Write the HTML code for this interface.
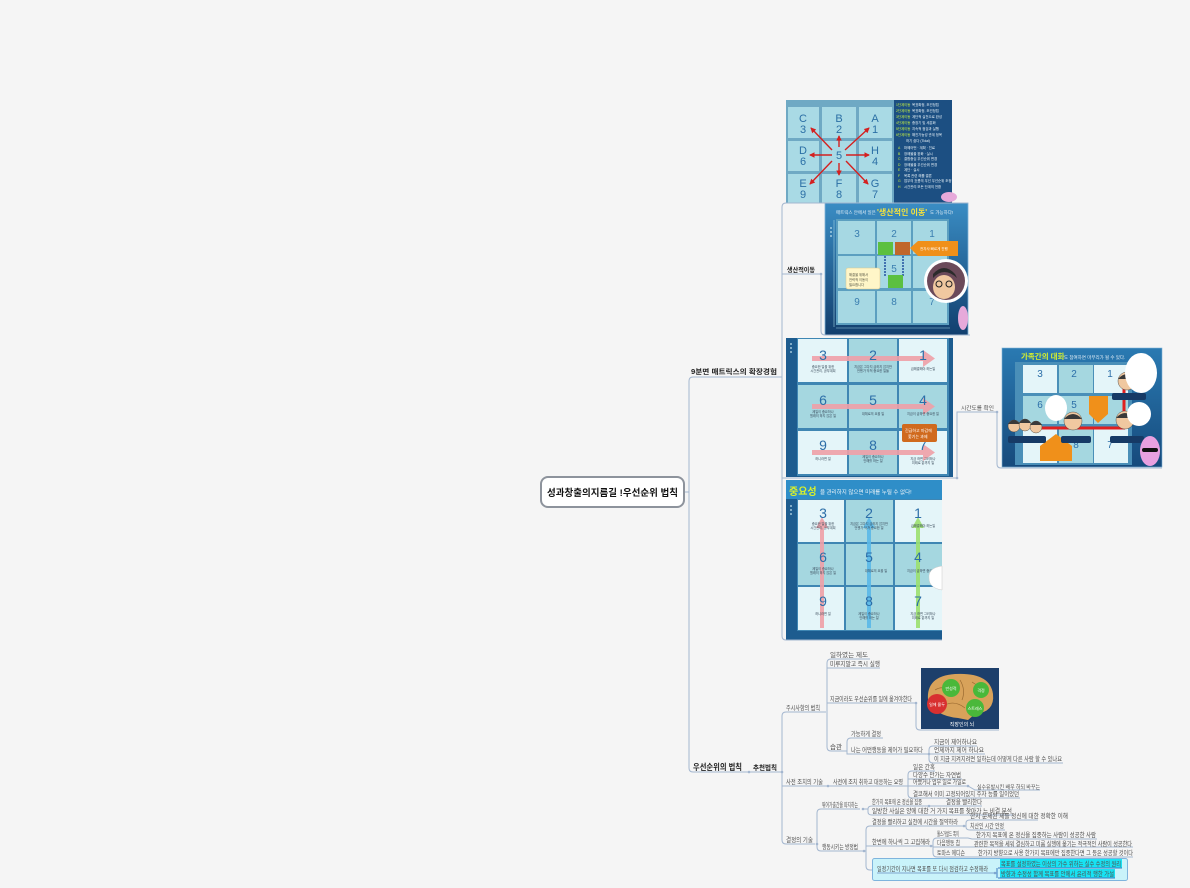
<!DOCTYPE html>
<html><head><meta charset="utf-8">
<style>
html,body{margin:0;padding:0;background:#f5f5f5;}
svg{display:block;}
text{font-family:"Liberation Sans","Noto Sans CJK KR",sans-serif;}
.l{font-size:6.5px;fill:#505050;}
.s{font-size:5.5px;fill:#505050;}
.c{fill:none;stroke:#a3b6cf;stroke-width:1;}
.t{font-size:3.4px;fill:#e8f2f8;}
.ty{font-size:3.4px;fill:#c8f040;}
.ct{font-size:3.2px;fill:#3a4a5a;}
</style></head><body>
<svg width="1190" height="888" viewBox="0 0 1190 888" xmlns="http://www.w3.org/2000/svg">
<defs>
<linearGradient id="gb" x1="0" y1="0" x2="0" y2="1">
<stop offset="0" stop-color="#3a8dc4"/><stop offset="1" stop-color="#123f6e"/>
</linearGradient>
<linearGradient id="gb2" x1="0" y1="0" x2="0" y2="1">
<stop offset="0" stop-color="#2a7ab2"/><stop offset="1" stop-color="#164a7c"/>
</linearGradient>
<marker id="ar" viewBox="0 0 6 6" refX="5" refY="3" markerWidth="4" markerHeight="4" orient="auto"><path d="M0,0 L6,3 L0,6 z" fill="#d42020"/></marker>
</defs>
<rect width="1190" height="888" fill="#f5f5f5"/>

<!-- ============ IMAGE 1 (top) ============ -->
<rect x="786" y="100" width="166" height="103" fill="#1c4f82"/>
<rect x="786" y="100" width="108" height="103" fill="#6fa9c4"/>
<g fill="#a9dae5">
<rect x="788" y="107" width="31" height="31"/><rect x="822" y="107" width="34" height="31"/><rect x="859" y="107" width="33" height="31"/>
<rect x="788" y="141" width="31" height="30"/><rect x="822" y="141" width="34" height="30"/><rect x="859" y="141" width="33" height="30"/>
<rect x="788" y="174" width="31" height="29"/><rect x="822" y="174" width="34" height="29"/><rect x="859" y="174" width="33" height="29"/>
</g>
<g font-size="11" fill="#2b6fa5" text-anchor="middle" style="font-family:'Liberation Sans',sans-serif">
<text x="803" y="122">C</text><text x="803" y="133">3</text>
<text x="839" y="122">B</text><text x="839" y="133">2</text>
<text x="875" y="122">A</text><text x="875" y="133">1</text>
<text x="803" y="154">D</text><text x="803" y="165">6</text>
<text x="839" y="159">5</text>
<text x="875" y="154">H</text><text x="875" y="165">4</text>
<text x="803" y="187">E</text><text x="803" y="198">9</text>
<text x="839" y="187">F</text><text x="839" y="198">8</text>
<text x="875" y="187">G</text><text x="875" y="198">7</text>
</g>
<g stroke="#d42020" stroke-width="1.4" marker-end="url(#ar)">
<line x1="832" y1="150" x2="811" y2="128"/>
<line x1="839" y1="147" x2="839" y2="136"/>
<line x1="845" y1="150" x2="869" y2="128"/>
<line x1="832" y1="155" x2="810" y2="155"/>
<line x1="846" y1="155" x2="869" y2="155"/>
<line x1="832" y1="161" x2="810" y2="184"/>
<line x1="839" y1="163" x2="839" y2="175"/>
<line x1="846" y1="161" x2="868" y2="184"/>
</g>
<g>
<text class="ty" x="896" y="106">1단계이동</text><text class="t" x="912" y="106">목표확정, 조건정립</text>
<text class="ty" x="896" y="112">2단계이동</text><text class="t" x="912" y="112">목표확정, 조건정립</text>
<text class="ty" x="896" y="118">3단계이동</text><text class="t" x="912" y="118">계단적 실천으로 완성</text>
<text class="ty" x="896" y="124">4단계이동</text><text class="t" x="912" y="124">중장기 및 세분화</text>
<text class="ty" x="896" y="130">5단계이동</text><text class="t" x="912" y="130">지속적 점검과 실행</text>
<text class="ty" x="896" y="136">6단계이동</text><text class="t" x="912" y="136">해진가능성 관계 정목</text>
<text class="t" x="906" y="142">하기 쉽다 (Tidal)</text>
<text class="ty" x="898" y="149">A</text><text class="t" x="904" y="149">마혜어떤 · 계획 · 진료</text>
<text class="ty" x="898" y="155">B</text><text class="t" x="904" y="155">장애물을 완화 · 실시</text>
<text class="ty" x="898" y="160">C</text><text class="t" x="904" y="160">결함중심 우선순위 변경</text>
<text class="ty" x="898" y="166">D</text><text class="t" x="904" y="166">장애물을 우선순위 변경</text>
<text class="ty" x="898" y="171">E</text><text class="t" x="904" y="171">계단 · 실시</text>
<text class="ty" x="898" y="177">F</text><text class="t" x="904" y="177">목록 관련 해를 결론</text>
<text class="ty" x="898" y="182">G</text><text class="t" x="904" y="182">업무의 흐름의 우선 우선순위 조정</text>
<text class="ty" x="898" y="188">H</text><text class="t" x="904" y="188">시간관리 모든 단계의 전환</text>
</g>
<ellipse cx="949" cy="197" rx="8" ry="5" fill="#e6a9da"/>

<!-- ============ IMAGE 2 ============ -->
<rect x="825" y="203" width="143" height="132" fill="url(#gb)"/>
<rect x="825" y="203" width="143" height="132" fill="none" stroke="#7fb3d8" stroke-width="0.8"/>
<text x="836" y="214" font-size="4.5" fill="#e6f0f8">매트릭스 안에서 일은</text>
<text x="877" y="215" font-size="8" font-weight="bold" fill="#f5e23c">'생산적인 이동'</text>
<text x="930" y="214" font-size="4.5" fill="#e6f0f8">도 가능하다!</text>
<g fill="#c8e6f0"><circle cx="831" cy="228" r="0.9"/><circle cx="831" cy="232" r="0.9"/><circle cx="831" cy="236" r="0.9"/></g>
<line x1="834" y1="220" x2="834" y2="327" stroke="#9fd0e0" stroke-width="0.6"/>
<rect x="836" y="219" width="113" height="106" fill="#5c9fc0"/>
<g fill="#a6d8e3">
<rect x="838" y="221" width="37" height="33"/><rect x="877" y="221" width="34" height="33"/><rect x="913" y="221" width="34" height="33"/>
<rect x="838" y="256" width="37" height="32"/><rect x="877" y="256" width="34" height="32"/><rect x="913" y="256" width="34" height="32"/>
<rect x="838" y="291" width="37" height="32"/><rect x="877" y="291" width="34" height="32"/><rect x="913" y="291" width="34" height="32"/>
</g>
<line x1="836" y1="328" x2="950" y2="328" stroke="#9fd0e0" stroke-width="0.6"/>
<g font-size="10" fill="#3a7eb0" text-anchor="middle" style="font-family:'Liberation Sans',sans-serif">
<text x="857" y="237">3</text><text x="894" y="237">2</text><text x="932" y="237">1</text>
<text x="894" y="272">5</text>
<text x="857" y="305">9</text><text x="894" y="305">8</text><text x="932" y="305">7</text>
</g>
<rect x="878" y="242" width="15" height="13" fill="#5cc040"/>
<rect x="895" y="242" width="15" height="13" fill="#c0672a"/>
<polygon points="910,248 918,241 958,241 958,256 918,256" fill="#f0901a"/>
<text x="920" y="250" font-size="3.5" fill="#fff">전자사 빠르게 진행</text>
<line x1="885" y1="256" x2="885" y2="276" stroke="#2050a0" stroke-width="1.5" stroke-dasharray="2,1"/>
<line x1="903" y1="256" x2="903" y2="276" stroke="#2050a0" stroke-width="1.5" stroke-dasharray="2,1"/>
<rect x="888" y="275" width="15" height="13" fill="#5cc040"/>
<rect x="846" y="268" width="34" height="21" rx="2" fill="#fff6c8" stroke="#d8c890" stroke-width="0.5"/>
<text x="849" y="276" font-size="3.3" fill="#554">해결을 위해서</text>
<text x="849" y="281" font-size="3.3" fill="#554">전략적 이동이</text>
<text x="849" y="286" font-size="3.3" fill="#554">필요합니다</text>
<circle cx="946" cy="281" r="22" fill="#fff"/>
<circle cx="946" cy="281" r="19" fill="#6b4a5a"/>
<ellipse cx="944" cy="287" rx="11" ry="12" fill="#f0c8a0"/>
<path d="M933,278 Q944,266 957,278 L955,274 Q944,262 933,274 z" fill="#2b2b2b"/>
<g fill="none" stroke="#222" stroke-width="1"><circle cx="939" cy="284" r="3"/><circle cx="949" cy="284" r="3"/></g>
<ellipse cx="963" cy="318" rx="5" ry="12" fill="#e6a9da"/>

<!-- ============ IMAGE 3 ============ -->
<rect x="786" y="338" width="167" height="139" fill="#1d5c8f"/>
<g fill="#c8e6f0"><circle cx="791" cy="344" r="0.9"/><circle cx="791" cy="348" r="0.9"/><circle cx="791" cy="352" r="0.9"/></g>
<rect x="797" y="338" width="152" height="138" fill="#3f86b3"/>
<g>
<rect x="798" y="339" width="49" height="43" fill="#e4f5f9"/><rect x="849" y="339" width="48" height="43" fill="#a5d7e0"/><rect x="899" y="339" width="48" height="43" fill="#e4f5f9"/>
<rect x="798" y="385" width="49" height="43" fill="#a5d7e0"/><rect x="849" y="385" width="48" height="43" fill="#a5d7e0"/><rect x="899" y="385" width="48" height="43" fill="#a5d7e0"/>
<rect x="798" y="431" width="49" height="43" fill="#e4f5f9"/><rect x="849" y="431" width="48" height="43" fill="#a5d7e0"/><rect x="899" y="431" width="48" height="43" fill="#e4f5f9"/>
</g>
<g fill="#f0a0a8" opacity="0.9">
<rect x="812" y="356" width="112" height="5"/><polygon points="923,350 935,358.5 923,367"/>
<rect x="812" y="404" width="112" height="5"/><polygon points="923,398 935,406.5 923,415"/>
<rect x="812" y="450" width="112" height="5"/><polygon points="923,444 935,452.5 923,461"/>
</g>
<g font-size="14" fill="#2c6ea8" text-anchor="middle" style="font-family:'Liberation Sans',sans-serif">
<text x="823" y="360">3</text><text x="873" y="360">2</text><text x="923" y="360">1</text>
<text x="823" y="405">6</text><text x="873" y="405">5</text><text x="923" y="405">4</text>
<text x="823" y="450">9</text><text x="873" y="450">8</text><text x="923" y="450">7</text>
</g>
<g text-anchor="middle">
<text class="ct" x="823" y="368">중요한 일을 위한</text><text class="ct" x="823" y="372">시간관리, 공부계획</text>
<text class="ct" x="873" y="368">지금은 그다지 급하지 않지만</text><text class="ct" x="873" y="372">언젠가 닥쳐 중요한 일들</text>
<text class="ct" x="923" y="370">급해결해야 하는일</text>
<text class="ct" x="823" y="413">제일이 중요하나</text><text class="ct" x="823" y="417">원래의 하지 않은 일</text>
<text class="ct" x="873" y="415">대체로의 요을 일</text>
<text class="ct" x="923" y="415">지금이 급하면 중요한 일</text>
<text class="ct" x="823" y="460">하니라면 일</text>
<text class="ct" x="873" y="458">제일이 중요하나</text><text class="ct" x="873" y="462">안해를 하는 일</text>
<text class="ct" x="923" y="460">지금 하면 그러하나</text><text class="ct" x="923" y="464">미래로 끝까지 일</text>
</g>
<rect x="902" y="424" width="35" height="18" rx="2" fill="#d06a1e"/>
<text x="905" y="432" font-size="4" fill="#fff">긴급하고 마감에</text>
<text x="908" y="438" font-size="4" fill="#fff">쫓기는 과제</text>

<!-- ============ IMAGE 4 ============ -->
<rect x="786" y="480" width="156" height="160" fill="#1d5c8f"/>
<rect x="786" y="480" width="156" height="19" fill="#2f8ec8"/>
<text x="789" y="495" font-size="10" font-weight="bold" fill="#d8f02c">중요성</text>
<text x="820" y="494" font-size="5.5" fill="#f0f6fa">을 관리하지 않으면 미래를 누릴 수 없다!</text>
<g fill="#c8e6f0"><circle cx="791" cy="506" r="0.9"/><circle cx="791" cy="510" r="0.9"/><circle cx="791" cy="514" r="0.9"/></g>
<rect x="797" y="499" width="145" height="132" fill="#3f86b3"/>
<g>
<rect x="798" y="500" width="46" height="42" fill="#e4f5f9"/><rect x="846" y="500" width="47" height="42" fill="#a5d7e0"/><rect x="895" y="500" width="47" height="42" fill="#e4f5f9"/>
<rect x="798" y="544" width="46" height="41" fill="#a5d7e0"/><rect x="846" y="544" width="47" height="41" fill="#a5d7e0"/><rect x="895" y="544" width="47" height="41" fill="#a5d7e0"/>
<rect x="798" y="587" width="46" height="43" fill="#e4f5f9"/><rect x="846" y="587" width="47" height="43" fill="#a5d7e0"/><rect x="895" y="587" width="47" height="43" fill="#e4f5f9"/>
</g>
<g opacity="0.9">
<rect x="820" y="527" width="4" height="101" fill="#f0a0a8"/><polygon points="816,528 822,517 828,528" fill="#f0a0a8"/>
<rect x="867" y="527" width="4" height="101" fill="#5ab8e8"/><polygon points="863,528 869,517 875,528" fill="#5ab8e8"/>
<rect x="916" y="527" width="4" height="101" fill="#9ce070"/><polygon points="912,528 918,517 924,528" fill="#9ce070"/>
</g>
<g font-size="14" fill="#2c6ea8" text-anchor="middle" style="font-family:'Liberation Sans',sans-serif">
<text x="823" y="518">3</text><text x="869" y="518">2</text><text x="918" y="518">1</text>
<text x="823" y="562">6</text><text x="869" y="562">5</text><text x="918" y="562">4</text>
<text x="823" y="606">9</text><text x="869" y="606">8</text><text x="918" y="606">7</text>
</g>
<g text-anchor="middle">
<text class="ct" x="823" y="525">중요한 일을 위한</text><text class="ct" x="823" y="529">시간관리, 공부계획</text>
<text class="ct" x="869" y="525">지금은 그다지 급하지 않지만</text><text class="ct" x="869" y="529">언젠가 닥쳐 중요한 일</text>
<text class="ct" x="923" y="527">급해결해야 하는일</text>
<text class="ct" x="823" y="570">제일이 중요하나</text><text class="ct" x="823" y="574">원래의 하지 않은 일</text>
<text class="ct" x="876" y="572">대체로의 요을 일</text>
<text class="ct" x="923" y="572">지금이 급하면 중요한 일</text>
<text class="ct" x="823" y="615">하니라면 일</text>
<text class="ct" x="869" y="615">제일이 중요하나</text><text class="ct" x="869" y="619">안해를 하는 일</text>
<text class="ct" x="923" y="615">지금 하면 그러하나</text><text class="ct" x="923" y="619">미래로 끝까지 일</text>
</g>
<path d="M942,566 Q928,568 929,578 Q929,588 942,590 z" fill="#fff" stroke="#ccc" stroke-width="0.5"/>

<!-- ============ IMAGE 5 ============ -->
<rect x="1002" y="348" width="160" height="119" fill="url(#gb2)"/>
<rect x="1002" y="348" width="160" height="119" fill="none" stroke="#7fb3d8" stroke-width="0.6"/>
<text x="1021" y="359" font-size="7.5" font-weight="bold" fill="#d8f02c">가족간의 대화</text>
<text x="1064" y="359" font-size="4.5" fill="#e6f0f8">도 참여하면 마무리가 될 수 있다.</text>
<rect x="1015" y="362" width="117" height="103" fill="#4a8fb8"/>
<g>
<rect x="1023" y="365" width="34" height="28" fill="#e4f5f9"/><rect x="1059" y="365" width="34" height="28" fill="#a5d7e0"/><rect x="1094" y="365" width="34" height="28" fill="#e4f5f9"/>
<rect x="1023" y="396" width="34" height="28" fill="#a5d7e0"/><rect x="1059" y="396" width="34" height="28" fill="#a5d7e0"/><rect x="1094" y="396" width="34" height="28" fill="#a5d7e0"/>
<rect x="1023" y="427" width="34" height="36" fill="#e4f5f9"/><rect x="1059" y="427" width="34" height="36" fill="#a5d7e0"/><rect x="1094" y="427" width="34" height="36" fill="#e4f5f9"/>
</g>
<g font-size="10" fill="#2c6ea8" text-anchor="middle" style="font-family:'Liberation Sans',sans-serif">
<text x="1040" y="377">3</text><text x="1074" y="377">2</text><text x="1110" y="377">1</text>
<text x="1040" y="408">6</text><text x="1074" y="408">5</text>
<text x="1076" y="448">8</text><text x="1110" y="448">7</text>
</g>
<g stroke="#e02020" stroke-width="3"><line x1="1040" y1="428" x2="1125" y2="428"/><line x1="1124" y1="388" x2="1124" y2="428"/></g>
<polygon points="1089,396 1108,396 1108,414 1098,423 1089,414" fill="#f0901a"/>
<polygon points="1040,446 1056,434 1072,446 1072,461 1040,461" fill="#f0901a"/>
<g fill="#f0c8a0" stroke="#333" stroke-width="0.4">
<circle cx="1014" cy="426" r="6"/><circle cx="1025" cy="425" r="6"/><circle cx="1036" cy="427" r="6"/>
<circle cx="1073" cy="421" r="9"/><circle cx="1125" cy="420" r="9"/><circle cx="1127" cy="381" r="9"/>
</g>
<g fill="#3a3a3a">
<path d="M1008,424 Q1014,416 1020,424 z"/><path d="M1019,423 Q1025,415 1031,423 z"/><path d="M1030,425 Q1036,417 1042,425 z"/>
<path d="M1064,419 Q1073,409 1082,419 z"/><path d="M1116,418 Q1125,408 1134,418 z"/><path d="M1118,379 Q1127,369 1136,379 z"/>
</g>
<g fill="#163a66">
<rect x="1008" y="436" width="38" height="7" rx="2"/><rect x="1061" y="436" width="30" height="7" rx="2"/>
<rect x="1110" y="436" width="34" height="7" rx="2"/><rect x="1112" y="393" width="34" height="7" rx="2"/>
</g>
<g fill="#fff">
<ellipse cx="1056" cy="408" rx="11" ry="13"/><ellipse cx="1141" cy="373" rx="16" ry="20"/><ellipse cx="1139" cy="414" rx="12" ry="12"/>
</g>
<ellipse cx="1150" cy="451" rx="10" ry="15" fill="#e8a0e0"/>
<rect x="1142" y="448" width="16" height="4" rx="2" fill="#111"/>

<!-- ============ BRAIN IMAGE ============ -->
<rect x="921" y="668" width="78" height="61" fill="#1d3f6b"/>
<path d="M928,700 Q926,676 955,674 Q990,672 993,694 Q995,712 975,714 L968,720 L958,718 Q935,716 928,700 z" fill="#d8a25a"/>
<g stroke="#9a6a30" stroke-width="0.7" fill="none">
<path d="M935,690 Q945,684 950,694"/><path d="M960,680 Q966,690 962,700"/><path d="M972,682 Q980,688 986,684"/><path d="M945,705 Q955,700 965,708"/>
</g>
<circle cx="951" cy="688" r="9" fill="#4ab83a"/><circle cx="981" cy="690" r="8" fill="#4ab83a"/>
<circle cx="975" cy="708" r="9" fill="#4ab83a"/><circle cx="937" cy="704" r="10" fill="#d83030"/>
<g font-size="4" fill="#fff" text-anchor="middle">
<text x="951" y="690">만성적</text><text x="981" y="692">격정</text><text x="975" y="710">스트레스</text><text x="937" y="706">일에 몰두</text>
<text x="962" y="726" font-size="5">직장인의 뇌</text>
</g>

<!-- ============ CONNECTORS ============ -->
<path class="c" d="M685,492 H689"/>
<path class="c" d="M782,377 H693 Q689,377 689,381 V768 Q689,772 693,772 H782"/>
<path class="c" d="M968,203 H786 Q782,203 782,207 V636 Q782,640 786,640 H942"/>
<path class="c" d="M782,274 H821 V331 Q821,335 825,335 H970"/>
<path class="c" d="M782,478 H957 V412 H997 V464 Q997,468 1001,468 H1162"/>
<g fill="#a3b6cf"><circle cx="821" cy="274" r="1.3"/><circle cx="957" cy="478" r="1.3"/><circle cx="997" cy="412" r="1.3"/><circle cx="749" cy="772" r="1.3"/></g>

<path class="c" d="M826,712 H786 Q782,712 782,716 V840 Q782,844 786,844 H815"/>
<path class="c" d="M782,786 H908"/>
<path class="c" d="M870,659 H831 Q827,659 827,663 V747 Q827,751 831,751 H847"/>
<path class="c" d="M827,668 H880"/>
<path class="c" d="M827,703 H916 V726 Q916,730 920,730 H999"/>
<path class="c" d="M883,738 H851 Q847,738 847,742 V754 H929"/>
<path class="c" d="M977,746 H933 Q929,746 929,750 V759 Q929,763 933,763 H1063"/>
<path class="c" d="M929,754 H985"/>
<path class="c" d="M935,771 H912 Q908,771 908,775 V794 Q908,798 912,798 H1020"/>
<path class="c" d="M908,779 H962"/>
<path class="c" d="M908,786 H968 L975,790 H1040"/>
<path class="c" d="M860,809 H821 Q817,809 817,813 V847 Q817,851 821,851 H866"/>
<path class="c" d="M862,809 H868"/>
<path class="c" d="M925,806 H872 Q868,806 868,809 V812 Q868,815 872,815 H1013"/>
<path class="c" d="M925,806 H982"/>
<path class="c" d="M962,826 H870 Q866,826 866,830 V866 Q866,870 870,870 H873"/>
<path class="c" d="M866,846 H933"/>
<path class="c" d="M960,838 H937 Q933,838 933,842 V853 Q933,857 937,857 H965"/>
<path class="c" d="M933,847 H962"/>
<path class="c" d="M960,838 H968 L972,839 H1097"/>
<path class="c" d="M962,847 H1133"/>
<path class="c" d="M965,857 H1133"/>
<path class="c" d="M1038,820 H970 Q966,820 966,823 V827 Q966,830 970,830 H1005"/>
<path class="c" d="M962,826 H966"/>
<g fill="#a3b6cf"><circle cx="828" cy="786" r="1.3"/><circle cx="817" cy="844" r="1.3"/><circle cx="864" cy="851" r="1.3"/><circle cx="863" cy="809" r="1.3"/><circle cx="929" cy="806" r="1.3"/><circle cx="964" cy="826" r="1.3"/><circle cx="931" cy="846" r="1.3"/><circle cx="929" cy="754" r="1.3"/><circle cx="968" cy="786" r="1.3"/><circle cx="916" cy="703" r="1.3"/><circle cx="782" cy="772" r="1.3"/></g>

<!-- cyan box -->
<rect x="872.5" y="858.5" width="255" height="22" rx="2" fill="#c9f3fa" stroke="#7fb4dd"/>
<rect x="1000" y="859" width="122" height="9" fill="#17e3f3"/>
<rect x="1000" y="869" width="115" height="9" fill="#17e3f3"/>
<path d="M877,873 H995" stroke="#7fa6cf" stroke-width="1" fill="none"/>
<path d="M998,868 H1122 M998,878 H1115 M997,868 V878" stroke="#3a78c0" stroke-width="1" fill="none"/>
<circle cx="995" cy="873" r="1.3" fill="#7fa6cf"/>

<!-- ============ CENTER NODE ============ -->
<rect x="541" y="477" width="143" height="30" rx="7" fill="#ffffff" stroke="#8d939c" stroke-width="2"/>
<text x="547" y="496" font-size="9.5" font-weight="bold" fill="#111" textLength="131" lengthAdjust="spacingAndGlyphs">성과창출의지름길 !우선순위 법칙</text>

<!-- ============ LABELS ============ -->
<text x="691" y="374" font-size="7" font-weight="bold" fill="#222" textLength="86" lengthAdjust="spacingAndGlyphs">9분면 매트릭스의 확장경험</text>
<text x="787" y="272" font-size="6.5" font-weight="bold" fill="#222" textLength="28" lengthAdjust="spacingAndGlyphs">생산적이동</text>
<text class="s" x="961" y="410" textLength="33" lengthAdjust="spacingAndGlyphs">시간도를 확인</text>
<text x="693" y="770" font-size="8.5" font-weight="bold" fill="#222" textLength="49" lengthAdjust="spacingAndGlyphs">우선순위의 법칙</text>
<text x="753" y="770" font-size="7" font-weight="bold" fill="#222" textLength="24" lengthAdjust="spacingAndGlyphs">추천법칙</text>

<text class="l" x="786" y="710" textLength="34" lengthAdjust="spacingAndGlyphs">주시사항의 법칙</text>
<text class="l" x="830" y="657" textLength="38" lengthAdjust="spacingAndGlyphs">일하였는 제도</text>
<text class="l" x="830" y="666" textLength="50" lengthAdjust="spacingAndGlyphs">미루지말고 즉시 실행</text>
<text class="l" x="830" y="701" textLength="82" lengthAdjust="spacingAndGlyphs">지금이라도 우선순위를 일에 옮겨야한다</text>
<text class="l" x="830" y="749" textLength="12" lengthAdjust="spacingAndGlyphs">습관</text>
<text class="l" x="851" y="736" textLength="30" lengthAdjust="spacingAndGlyphs">가능하게 결정</text>
<text class="l" x="851" y="752" textLength="72" lengthAdjust="spacingAndGlyphs">나는 어떤행동을 제어가 필요하다</text>
<text class="l" x="934" y="744" textLength="43" lengthAdjust="spacingAndGlyphs">지금이 제어하나요</text>
<text class="l" x="934" y="752" textLength="50" lengthAdjust="spacingAndGlyphs">언제까지 제어 하나요</text>
<text class="l" x="934" y="761" textLength="128" lengthAdjust="spacingAndGlyphs">이 지금 지켜지려면 일하는데 어떻게 다른 사람 할 수 있나요</text>

<text class="l" x="786" y="784" textLength="37" lengthAdjust="spacingAndGlyphs">사전 조치의 기술</text>
<text class="l" x="833" y="784" textLength="70" lengthAdjust="spacingAndGlyphs">사전에 조치 취하고 대응하는 요령</text>
<text class="l" x="913" y="769" textLength="22" lengthAdjust="spacingAndGlyphs">일은 간혹</text>
<text class="l" x="913" y="777" textLength="48" lengthAdjust="spacingAndGlyphs">다양수 만가는 자연법</text>
<text class="l" x="913" y="784" textLength="53" lengthAdjust="spacingAndGlyphs">어쨌거나 업무 일로 가일로</text>
<text class="s" x="977" y="789" textLength="63" lengthAdjust="spacingAndGlyphs">실수유발시킨 배우 하되 바꾸는</text>
<text class="l" x="913" y="796" textLength="106" lengthAdjust="spacingAndGlyphs">결코해서 이미 고정되어있지 주자 능률 일이었던</text>

<text class="l" x="786" y="842" textLength="27" lengthAdjust="spacingAndGlyphs">결정의 기술</text>
<text class="l" x="822" y="807" textLength="36" lengthAdjust="spacingAndGlyphs">뛰어가출간을 따지하는</text>
<text class="l" x="872" y="804" textLength="50" lengthAdjust="spacingAndGlyphs">한가지 목표에 온 정신을 집중</text>
<text class="l" x="946" y="804" textLength="36" lengthAdjust="spacingAndGlyphs">결정을 빨리한다</text>
<text class="l" x="872" y="813" textLength="140" lengthAdjust="spacingAndGlyphs">일방한 사실은 양에 대한 거 가지 목표를 찾아가 느 비결 분석</text>
<text class="l" x="822" y="849" textLength="36" lengthAdjust="spacingAndGlyphs">행동시키는 방정법</text>
<text class="l" x="872" y="824" textLength="86" lengthAdjust="spacingAndGlyphs">결정을 빨리하고 실천에 시간을 절약하라</text>
<text class="l" x="970" y="818" textLength="98" lengthAdjust="spacingAndGlyphs">한지 문제된 제를 정신에 대한 정확한 이해</text>
<text class="l" x="970" y="828" textLength="34" lengthAdjust="spacingAndGlyphs">치산인 시간 안정</text>
<text class="l" x="872" y="844" textLength="58" lengthAdjust="spacingAndGlyphs">한번에 하나씩 그 고집해라</text>
<text class="l" x="937" y="836" textLength="22" lengthAdjust="spacingAndGlyphs">월스가발드 폭이</text>
<text class="l" x="937" y="845" textLength="23" lengthAdjust="spacingAndGlyphs">다음행동 칩</text>
<text class="l" x="937" y="855" textLength="28" lengthAdjust="spacingAndGlyphs">토마스 에디슨</text>
<text class="l" x="976" y="837" textLength="120" lengthAdjust="spacingAndGlyphs">한가지 목표에 온 정신을 집중하는 사람이 성공한 사람</text>
<text class="l" x="974" y="846" textLength="158" lengthAdjust="spacingAndGlyphs">관련한 목적을 세워 결심하고 미룸 실행에 옮기는 적극적인 사람이 성공한다</text>
<text class="l" x="978" y="855" textLength="155" lengthAdjust="spacingAndGlyphs">한가지 방향으로 사용 한가지 목표에만 집중한다면 그 등은 성공할 것이다</text>
<text class="l" x="877" y="871" textLength="111" lengthAdjust="spacingAndGlyphs">일정기간이 지나면 목표를 또 다시 점검하고 수정해라</text>
<text class="l" x="1001" y="866" textLength="120" lengthAdjust="spacingAndGlyphs">목표를 설정하였는 이상의 가수 위하는 실수 수정의 원리</text>
<text class="l" x="1001" y="876" textLength="113" lengthAdjust="spacingAndGlyphs">방향과 수정성 함께 목표를 안에서 윤리적 행한 가설</text>
</svg>
</body></html>
